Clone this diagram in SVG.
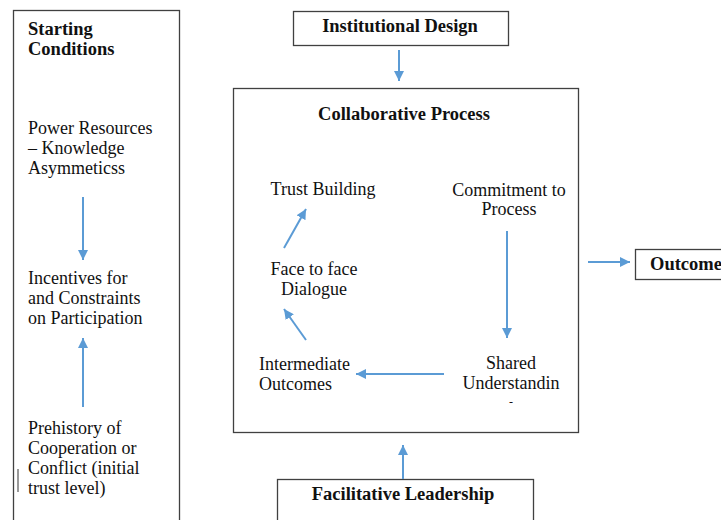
<svg xmlns="http://www.w3.org/2000/svg" width="721" height="520" viewBox="0 0 721 520">
<defs>
<marker id="ah" viewBox="0 0 10 10" refX="10" refY="5" markerWidth="5" markerHeight="5" orient="auto" markerUnits="strokeWidth">
<path d="M0,0 L10,5 L0,10 z" fill="#5B9BD5"/>
</marker>
<style>
.box{fill:#fff;stroke:#404040;stroke-width:1.3}
text{font-family:"Liberation Serif","Times New Roman",serif;fill:#111}
.t{font-size:18px}
.b{font-size:18.5px;font-weight:bold}
.c{text-anchor:middle}
.ar{stroke:#5B9BD5;stroke-width:2;fill:none;marker-end:url(#ah)}
</style>
</defs>
<rect width="721" height="520" fill="#fff"/>

<g id="starting-conditions">
<rect class="box" x="13.5" y="10.5" width="166" height="520"/>
<text class="b" x="28" y="35">Starting</text>
<text class="b" x="28" y="55">Conditions</text>
<line x1="18" y1="469" x2="18" y2="492" stroke="#555" stroke-width="1.2"/>
</g>
<g id="power-resources">
<text class="t" x="28" y="134">Power Resources</text>
<text class="t" x="28" y="154">– Knowledge</text>
<text class="t" x="28" y="174">Asymmeticss</text>
</g>
<g id="incentives">
<text class="t" x="28" y="284">Incentives for</text>
<text class="t" x="28" y="304">and Constraints</text>
<text class="t" x="28" y="324">on Participation</text>
</g>
<g id="prehistory">
<text class="t" x="28" y="434">Prehistory of</text>
<text class="t" x="28" y="454">Cooperation or</text>
<text class="t" x="28" y="474">Conflict (initial</text>
<text class="t" x="28" y="494">trust level)</text>
</g>

<g id="institutional-design">
<rect class="box" x="293.5" y="11.5" width="215" height="34"/>
<text class="b c" x="400" y="32">Institutional Design</text>
</g>

<g id="collaborative-process">
<rect class="box" x="233.5" y="88.5" width="345" height="344"/>
<text class="b c" x="404" y="120">Collaborative Process</text>
</g>
<g id="trust-building">
<text class="t c" x="323" y="195">Trust Building</text>
</g>
<g id="commitment">
<text class="t c" x="509" y="196">Commitment to</text>
<text class="t c" x="509" y="215">Process</text>
</g>
<g id="shared-understanding">
<text class="t c" x="511" y="369">Shared</text>
<text class="t c" x="511" y="389">Understandin</text>
<text class="c" x="511" y="406" font-size="12">-</text>
</g>
<g id="intermediate-outcomes">
<text class="t" x="259" y="370">Intermediate</text>
<text class="t" x="259" y="390">Outcomes</text>
</g>
<g id="face-to-face">
<text class="t c" x="314" y="275">Face to face</text>
<text class="t c" x="314" y="295">Dialogue</text>
</g>

<g id="outcome">
<rect class="box" x="635.5" y="249.5" width="100" height="30"/>
<text class="b" x="650" y="270">Outcome</text>
</g>

<g id="facilitative-leadership">
<rect class="box" x="277.5" y="479.5" width="256" height="60"/>
<text class="b c" x="403" y="500">Facilitative Leadership</text>
</g>

<g id="connectors">
<line class="ar" x1="83" y1="197" x2="83" y2="260"/>
<line class="ar" x1="83" y1="407" x2="83" y2="338"/>
<line class="ar" x1="399" y1="50" x2="399" y2="81"/>
<line class="ar" x1="403" y1="479" x2="403" y2="445"/>
<line class="ar" x1="588" y1="262" x2="630" y2="262"/>
<line class="ar" x1="507" y1="231" x2="507" y2="338"/>
<line class="ar" x1="444" y1="374" x2="356" y2="374"/>
<line class="ar" x1="306" y1="340" x2="284" y2="309"/>
<line class="ar" x1="284" y1="248" x2="306" y2="209"/>
</g>
</svg>
